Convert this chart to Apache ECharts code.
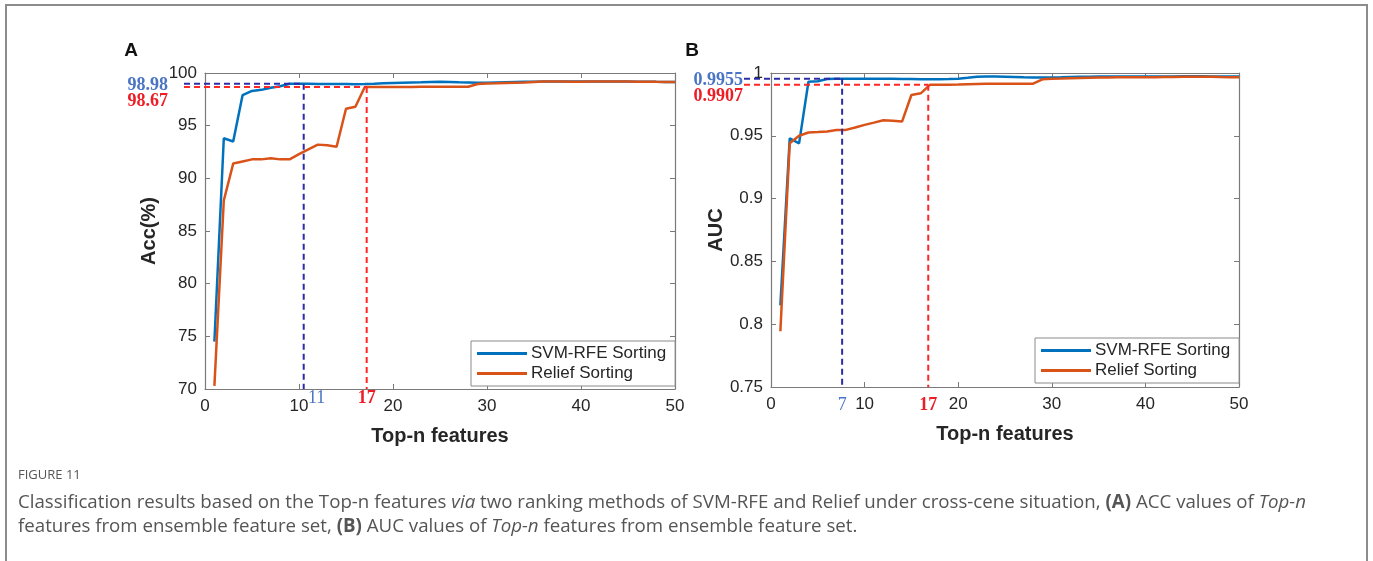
<!DOCTYPE html>
<html>
<head>
<meta charset="utf-8">
<script src="https://cdn.jsdelivr.net/npm/echarts@6/dist/echarts.min.js"></script>
<style>
html,body{margin:0;padding:0;background:#fff;}
#c{width:1373px;height:561px;}
</style>
</head>
<body>
<div id="c"></div>
<script>
// ---- data ----
const topN = [1,2,3,4,5,6,7,8,9,10,11,12,13,14,15,16,17,18,19,20,21,22,23,24,25,26,27,28,29,30,31,32,33,34,35,36,37,38,39,40,41,42,43,44,45,46,47,48,49,50];
const accSvm = [74.5,93.8,93.5,97.9,98.3,98.4,98.6,98.75,98.98,98.98,98.98,98.96,98.96,98.95,98.95,98.94,98.95,98.98,99.02,99.05,99.08,99.1,99.12,99.15,99.16,99.15,99.12,99.1,99.08,99.08,99.1,99.12,99.14,99.16,99.18,99.2,99.2,99.2,99.2,99.2,99.2,99.2,99.2,99.2,99.2,99.18,99.18,99.16,99.15,99.15];
const accRelief = [70.3,87.9,91.4,91.6,91.8,91.8,91.9,91.8,91.8,92.3,92.75,93.2,93.15,93.0,96.6,96.8,98.67,98.67,98.67,98.67,98.67,98.68,98.69,98.7,98.7,98.7,98.7,98.7,98.96,99.0,99.02,99.05,99.08,99.1,99.15,99.2,99.2,99.2,99.18,99.18,99.2,99.2,99.2,99.2,99.2,99.18,99.18,99.16,99.15,99.15];
const aucSvm = [0.815,0.948,0.944,0.993,0.9935,0.9952,0.9955,0.9955,0.9955,0.9955,0.9955,0.9955,0.9954,0.9953,0.9952,0.9951,0.995,0.995,0.9952,0.9955,0.9962,0.997,0.9972,0.9972,0.997,0.9968,0.9966,0.9965,0.9965,0.9965,0.9966,0.9968,0.997,0.9971,0.9972,0.9972,0.9972,0.9972,0.9972,0.9972,0.9972,0.9972,0.9973,0.9974,0.9975,0.9974,0.9973,0.9972,0.9972,0.9972];
const aucRelief = [0.7944,0.944,0.95,0.9526,0.953,0.9535,0.9547,0.9547,0.9566,0.9587,0.9605,0.9624,0.962,0.9613,0.9825,0.9838,0.9907,0.9907,0.9907,0.9908,0.991,0.9912,0.9914,0.9915,0.9915,0.9915,0.9915,0.9915,0.995,0.9955,0.9956,0.9958,0.996,0.9962,0.9964,0.9965,0.9966,0.9966,0.9966,0.9966,0.9967,0.9968,0.9969,0.997,0.997,0.997,0.997,0.9968,0.9967,0.9967];
const seriesNames = ['SVM-RFE Sorting','Relief Sorting'];
// reference markers: [x position, y value, x label, y label]
const accBest = {svm:[10.5, 98.98, '11', '98.98'], relief:[17.2, 98.67, '17', '98.67']};
const aucBest = {svm:[7.6, 0.9955, '7', '0.9955'], relief:[16.8, 0.9907, '17', '0.9907']};
const xTicks = {min:0, max:50, interval:10};
const accTicks = {min:70, max:100, interval:5};
const aucTicks = {min:0.75, max:1, interval:0.05};
const caption1 = 'Classification results based on the Top-n features {i|via} two ranking methods of SVM-RFE and Relief under cross-cene situation, {b|(A)} ACC values of {i|Top-n}';
const caption2 = 'features from ensemble feature set, {b|(B)} AUC values of {i|Top-n} features from ensemble feature set.';

const pair = (xs, ys) => xs.map((x, i) => [x, ys[i]]);
const BLUE = '#0072BD', ORANGE = '#D95319';
const AX = '#7a7a7a', TXT = '#262626';
const FONT = '"Liberation Sans", Arial, sans-serif';

function xAxisDef(grid, pos, show) {
  return {type:'value', gridIndex:grid, position:pos, min:xTicks.min, max:xTicks.max, interval:xTicks.interval,
    axisLine:{show:true, onZero:false, lineStyle:{color:AX, width:1.2}},
    axisTick:{show:true, inside:true, length:5, lineStyle:{color:AX}},
    axisLabel:{show:show, color:TXT, fontSize:17, fontFamily:FONT, margin:9},
    splitLine:{show:false},
    name: show ? 'Top-n features' : '', nameLocation:'middle', nameGap:37,
    nameTextStyle:{fontSize:20, fontWeight:'bold', color:TXT, fontFamily:FONT}};
}
function yAxisDef(grid, pos, show, t, name, gap, fmt) {
  return {type:'value', gridIndex:grid, position:pos, min:t.min, max:t.max, interval:t.interval,
    axisLine:{show:true, onZero:false, lineStyle:{color:AX, width:1.2}},
    axisTick:{show:true, inside:true, length:5, lineStyle:{color:AX}},
    axisLabel:{show:show, color:TXT, fontSize:17, fontFamily:FONT, margin:8, formatter:fmt},
    splitLine:{show:false},
    name: show ? name : '', nameLocation:'middle', nameGap:gap, nameRotate:90,
    nameTextStyle:{fontSize:20, fontWeight:'bold', color:TXT, fontFamily:FONT}};
}
function legendDef(left, top) {
  return {orient:'vertical', left:left, top:top, data:seriesNames, icon:'rect',
    itemWidth:50, itemHeight:3, itemGap:3, padding:[4,9,4,6],
    backgroundColor:'#fff', borderColor:'#8a8a8a', borderWidth:1, borderRadius:0,
    textStyle:{fontSize:17, lineHeight:17, color:TXT, fontFamily:FONT, padding:[0,0,0,-1]}, selectedMode:false};
}
function lineSeries(name, xi, yi, data, color) {
  return {name:name, type:'line', xAxisIndex:xi, yAxisIndex:yi, data:data, symbol:'none',
    color:color, itemStyle:{color:color}, lineStyle:{color:color, width:2.5}, animation:false, z:3};
}

const chart = echarts.init(document.getElementById('c'), null, {renderer:'canvas'});
chart.setOption({
  backgroundColor:'#fff',
  animation:false,
  grid:[{left:205, top:73, width:470, height:316}, {left:771, top:73, width:468, height:314}],
  xAxis:[xAxisDef(0,'bottom',true), xAxisDef(0,'top',false), xAxisDef(1,'bottom',true), xAxisDef(1,'top',false)],
  yAxis:[yAxisDef(0,'left',true,accTicks,'Acc(%)',46), yAxisDef(0,'right',false,accTicks,'',0),
         yAxisDef(1,'left',true,aucTicks,'AUC',45,v=>String(+v.toFixed(2))), yAxisDef(1,'right',false,aucTicks,'',0)],
  legend:[legendDef(471,341), legendDef(1035,338)],
  series:[
    lineSeries(seriesNames[0],0,0,pair(topN,accSvm),BLUE),
    lineSeries(seriesNames[1],0,0,pair(topN,accRelief),ORANGE),
    lineSeries(seriesNames[0],2,2,pair(topN,aucSvm),BLUE),
    lineSeries(seriesNames[1],2,2,pair(topN,aucRelief),ORANGE)
  ]
});

// ---- annotations through the library's scales ----
const NAVY = '#2c2ca8', RED = '#ff2626', LBLUE = '#4a74c4', LRED = '#ee1c25';
const SERIF = '"Liberation Serif","DejaVu Serif",serif';
const g = [];
function dashed(x1,y1,x2,y2,color){
  g.push({type:'line', shape:{x1,y1,x2,y2}, style:{stroke:color, lineWidth:2, lineDash:[6,4]}, z:10, silent:true});
}
function txt(x,y,text,color,align,bold,size){
  g.push({type:'text', x:x, y:y, style:{text:text, fill:color, align:align, verticalAlign:'middle',
    font:(bold?'bold ':'')+(size||18)+'px '+SERIF}, z:11, silent:true});
}
function annotate(gridIdx, best, yMin, lineStartX, textRight, xLblDy, svmLblDx){
  const s = best.svm, r = best.relief;
  const ps = chart.convertToPixel({gridIndex:gridIdx}, [s[0], s[1]]);
  const ps0 = chart.convertToPixel({gridIndex:gridIdx}, [s[0], yMin]);
  const pr = chart.convertToPixel({gridIndex:gridIdx}, [r[0], r[1]]);
  const pr0 = chart.convertToPixel({gridIndex:gridIdx}, [r[0], yMin]);
  dashed(lineStartX, ps[1], ps[0], ps[1], NAVY);
  dashed(ps[0], ps[1], ps0[0], ps0[1], NAVY);
  dashed(lineStartX, pr[1], pr[0], pr[1], RED);
  dashed(pr[0], pr[1], pr0[0], pr0[1], RED);
  txt(textRight, ps[1]+2, s[3], LBLUE, 'right', true);
  txt(textRight, ps[1]+18, r[3], LRED, 'right', true);
  txt(ps0[0]+svmLblDx, ps0[1]+xLblDy, s[2], LBLUE, 'center', false, 18);
  txt(pr0[0], pr0[1]+xLblDy, r[2], LRED, 'center', true, 18);
}
annotate(0, accBest, accTicks.min, 184, 168, 9, 13);
annotate(1, aucBest, aucTicks.min, 744, 743, 18, 0);

// panel letters
g.push({type:'text', x:131, y:51, style:{text:'A', font:'bold 19px '+FONT, fill:'#111', align:'center', verticalAlign:'middle'}});
g.push({type:'text', x:692, y:51, style:{text:'B', font:'bold 19px '+FONT, fill:'#111', align:'center', verticalAlign:'middle'}});
// frame
g.push({type:'rect', shape:{x:6, y:5, width:1361, height:600}, style:{fill:'none', stroke:'#8c8c8c', lineWidth:2}, silent:true, z:0});
// caption
const CAP = '"Open Sans", "Noto Sans", sans-serif';
const CS = 18.7;
g.push({type:'text', x:18, y:475, style:{text:'FIGURE 11', font:'13px '+CAP, fill:'#555', verticalAlign:'middle'}});
const rich = {i:{fontStyle:'italic', fontSize:CS, fontFamily:CAP, fill:'#555'}, b:{fontWeight:'bold', fontSize:CS, fontFamily:CAP, fill:'#555'}};
g.push({type:'text', x:18, y:503, style:{text:caption1, font:CS+'px '+CAP, fill:'#555', verticalAlign:'middle', rich:rich}});
g.push({type:'text', x:18, y:527, style:{text:caption2, font:CS+'px '+CAP, fill:'#555', verticalAlign:'middle', rich:rich}});
chart.setOption({graphic:g});
</script>
</body>
</html>
